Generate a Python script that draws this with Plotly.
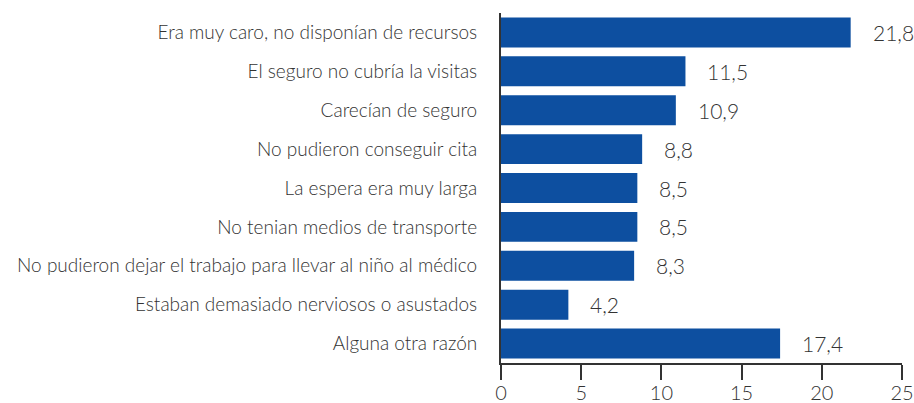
import plotly.graph_objects as go

categories = [
    "Era muy caro, no disponían de recursos",
    "El seguro no cubría la visitas",
    "Carecían de seguro",
    "No pudieron conseguir cita",
    "La espera era muy larga",
    "No tenian medios de transporte",
    "No pudieron dejar el trabajo para llevar al niño al médico",
    "Estaban demasiado nerviosos o asustados",
    "Alguna otra razón",
]
values = [21.8, 11.5, 10.9, 8.8, 8.5, 8.5, 8.3, 4.2, 17.4]
value_labels = [f"{v:.1f}".replace(".", ",") for v in values]
tick_vals = [0, 5, 10, 15, 20, 25]

FONT = "Lato"
TXT = "#333333"

fig = go.Figure(go.Bar(
    y=categories, x=values, orientation="h",
    marker=dict(color="#0d4fa0", line=dict(width=0)),
    width=0.77,
))

for c, v, t in zip(categories, values, value_labels):
    fig.add_annotation(x=v, y=c, text=t, showarrow=False, xanchor="left",
                       xshift=20, font=dict(family=FONT, size=21, color=TXT, weight=300))

fig.update_layout(
    width=914, height=403,
    margin=dict(l=501, r=12, t=13, b=40, autoexpand=False),
    plot_bgcolor="white", paper_bgcolor="white",
    showlegend=False,
    bargap=0.23,
)
fig.update_xaxes(
    range=[0, 25], tickvals=tick_vals, showgrid=False, zeroline=False,
    showline=True, linecolor="#333333", linewidth=2, automargin=False,
    ticks="outside", ticklen=15, tickwidth=2, tickcolor="#333333",
    ticklabelstandoff=-4,
    tickfont=dict(family=FONT, size=20, color=TXT, weight=300),
)
fig.update_yaxes(
    categoryorder="array", categoryarray=categories, autorange="reversed",
    showgrid=False, zeroline=False, showline=True, linecolor="#333333", linewidth=2,
    ticks="", ticklabelstandoff=18, automargin=False,
    tickfont=dict(family=FONT, size=19, color=TXT, weight=300),
)

fig.write_html("out.html")
